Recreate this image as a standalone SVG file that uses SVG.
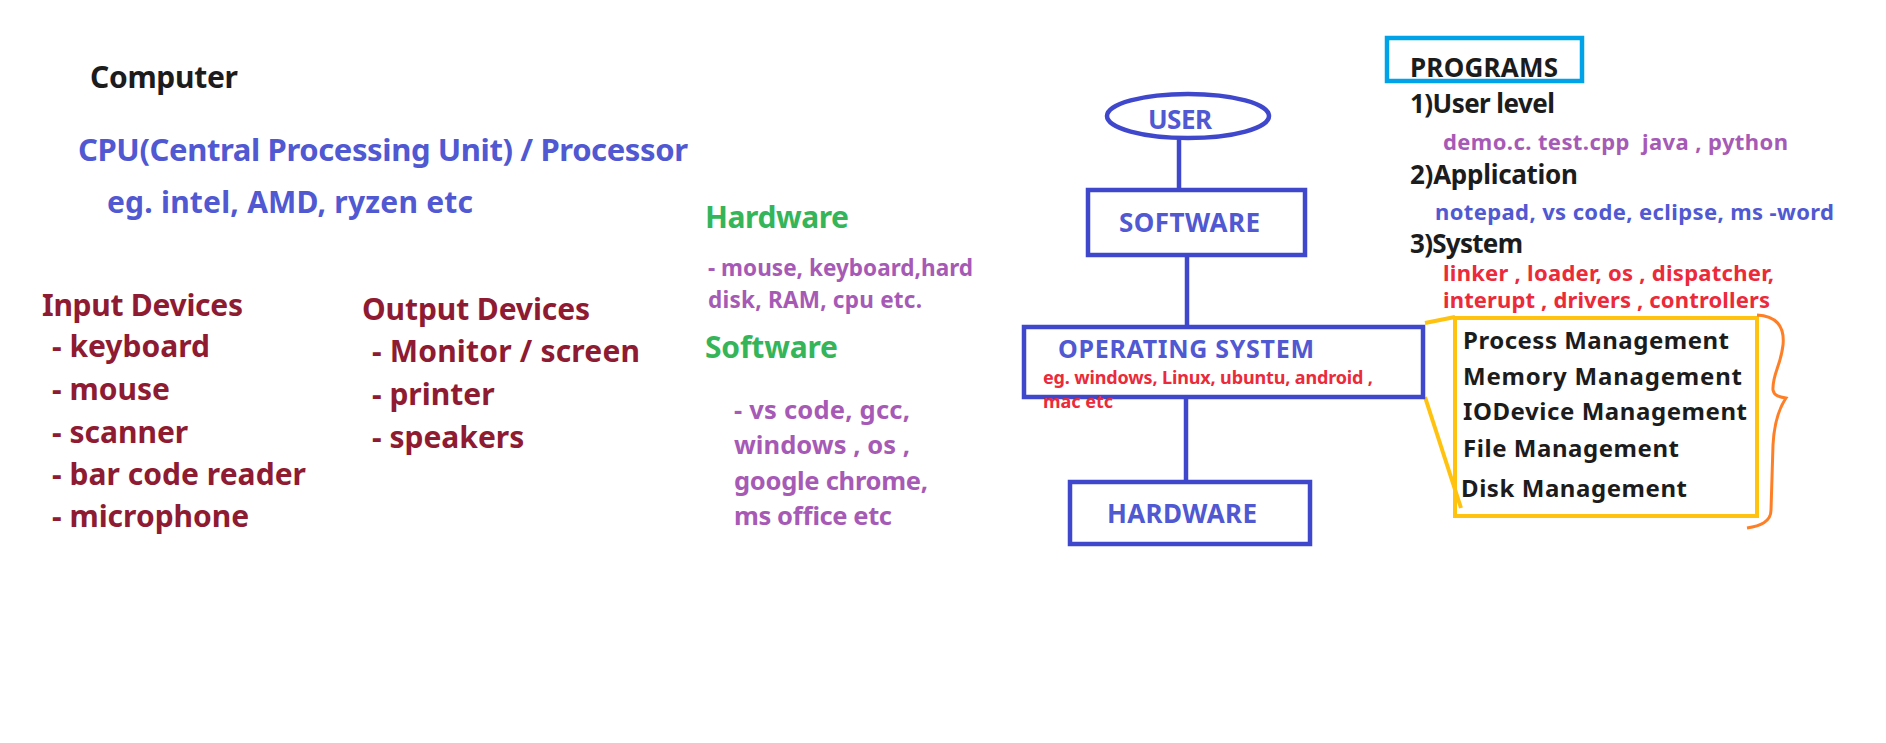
<svg xmlns="http://www.w3.org/2000/svg" width="1886" height="743" viewBox="0 0 1886 743">
<style>
text{font-family:"Noto Sans","Open Sans","Liberation Sans",sans-serif;font-weight:700}
.blk{fill:#1c1c1c}
.blu{fill:#5058d2}
.dr{fill:#8e1b32}
.gr{fill:#35b559}
.pu{fill:#a65ab6}
.rd{fill:#eb2a3a}
.box{fill:none;stroke:#3f48cc;stroke-width:4.5}
.con{stroke:#3f48cc;stroke-width:4.5;fill:none}
</style>
<rect width="1886" height="743" fill="#ffffff"/>

<g id="left-text">
<text class="blk" x="90" y="88" font-size="30" textLength="148">Computer</text>
<text class="blu" x="78" y="161" font-size="31" textLength="610">CPU(Central Processing Unit) / Processor</text>
<text class="blu" x="107" y="213" font-size="30" textLength="366">eg. intel, AMD, ryzen etc</text>
</g>

<g id="input-devices">
<text class="dr" x="42" y="316" font-size="30" textLength="201">Input Devices</text>
<text class="dr" x="52" y="357" font-size="30" textLength="158">- keyboard</text>
<text class="dr" x="52" y="400" font-size="30">- mouse</text>
<text class="dr" x="52" y="443" font-size="30">- scanner</text>
<text class="dr" x="52" y="485" font-size="30" textLength="254">- bar code reader</text>
<text class="dr" x="52" y="527" font-size="30">- microphone</text>
</g>

<g id="output-devices">
<text class="dr" x="362" y="320" font-size="30" textLength="228">Output Devices</text>
<text class="dr" x="372" y="362" font-size="30" textLength="268">- Monitor / screen</text>
<text class="dr" x="372" y="405" font-size="30">- printer</text>
<text class="dr" x="372" y="448" font-size="30">- speakers</text>
</g>

<g id="hw-sw-text">
<text class="gr" x="705" y="228" font-size="30" textLength="144">Hardware</text>
<text class="pu" x="708" y="276" font-size="22.5" textLength="265">- mouse, keyboard,hard</text>
<text class="pu" x="708" y="308" font-size="22.5" textLength="214">disk, RAM, cpu etc.</text>
<text class="gr" x="705" y="358" font-size="30" textLength="133">Software</text>
<text class="pu" x="734" y="419" font-size="25.5" textLength="176">- vs code, gcc,</text>
<text class="pu" x="734" y="454" font-size="25.5" textLength="176">windows , os ,</text>
<text class="pu" x="734" y="490" font-size="25.5" textLength="194">google chrome,</text>
<text class="pu" x="734" y="525" font-size="25.5" textLength="158">ms office etc</text>
</g>

<g id="connectors">
<line class="con" x1="1179" y1="139" x2="1179" y2="190"/>
<line class="con" x1="1187" y1="257" x2="1187" y2="327"/>
<line class="con" x1="1186" y1="399" x2="1186" y2="482"/>
<line x1="1425" y1="323" x2="1455" y2="317" stroke="#ffc20e" stroke-width="4"/>
<line x1="1425" y1="397" x2="1461" y2="508" stroke="#ffc20e" stroke-width="4"/>
</g>

<g id="user">
<ellipse cx="1188" cy="116" rx="81" ry="22" class="box"/>
<text class="blu" x="1148" y="129" font-size="26" textLength="64">USER</text>
</g>

<g id="software">
<rect x="1088" y="190" width="217" height="65" class="box"/>
<text class="blu" x="1119" y="232" font-size="26" textLength="141">SOFTWARE</text>
</g>

<g id="operating-system">
<rect x="1024" y="327" width="399" height="70" class="box"/>
<text class="blu" x="1058" y="358" font-size="25" textLength="256">OPERATING SYSTEM</text>
<text class="rd" x="1043" y="384" font-size="18" textLength="330">eg. windows, Linux, ubuntu, android ,</text>
<text class="rd" x="1043" y="408" font-size="18">mac etc</text>
</g>

<g id="hardware">
<rect x="1070" y="482" width="240" height="62" class="box"/>
<text class="blu" x="1107" y="523" font-size="26" textLength="150">HARDWARE</text>
</g>

<g id="programs">
<rect x="1387" y="38" width="195" height="43" fill="none" stroke="#00a2e8" stroke-width="4.5"/>
<text class="blk" x="1410" y="77" font-size="26" textLength="148">PROGRAMS</text>
<text class="blk" x="1410" y="113" font-size="26" textLength="145">1)User level</text>
<text class="pu" x="1443" y="150" font-size="22" textLength="345" xml:space="preserve">demo.c. test.cpp  java , python</text>
<text class="blk" x="1410" y="184" font-size="26" textLength="168">2)Application</text>
<text class="blu" x="1435" y="220" font-size="22" textLength="399">notepad, vs code, eclipse, ms -word</text>
<text class="blk" x="1410" y="253" font-size="26" textLength="113">3)System</text>
<text class="rd" x="1443" y="281" font-size="22" textLength="331">linker , loader, os , dispatcher,</text>
<text class="rd" x="1443" y="308" font-size="22" textLength="327">interupt , drivers , controllers</text>
</g>

<g id="os-functions">
<rect x="1455" y="318" width="302" height="198" fill="none" stroke="#ffc20e" stroke-width="4"/>
<text class="blk" x="1463" y="349" font-size="24" textLength="266">Process Management</text>
<text class="blk" x="1463" y="385" font-size="24" textLength="279">Memory Management</text>
<text class="blk" x="1463" y="420" font-size="24" textLength="284">IODevice Management</text>
<text class="blk" x="1463" y="457" font-size="24" textLength="216">File Management</text>
<text class="blk" x="1461" y="497" font-size="24" textLength="226">Disk Management</text>
<path d="M1757,315 C1775,316 1785,325 1783,345 C1781,365 1772,375 1773,390 C1774,396 1780,397 1786,398 C1778,410 1774,425 1773,445 L1771,510 C1771,522 1760,526 1747,528" fill="none" stroke="#ff7f27" stroke-width="3"/>
</g>
</svg>
